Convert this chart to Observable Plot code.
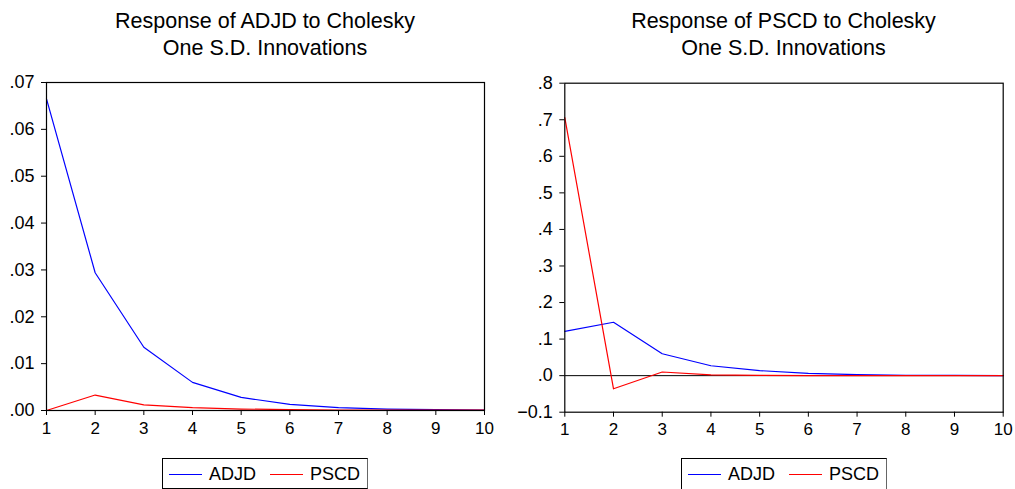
<!DOCTYPE html>
<html>
<head>
<meta charset="utf-8">
<script src="https://cdn.jsdelivr.net/npm/d3@7"></script>
<script src="https://cdn.jsdelivr.net/npm/@observablehq/plot@0.6"></script>
<style>
  html, body { margin: 0; padding: 0; background: #fff; }
  #root { position: relative; width: 1015px; height: 489px; overflow: hidden; font-family: "Liberation Sans", Arial, sans-serif; color: #000; }
  .panel { position: absolute; top: 0; }
  .title { position: absolute; text-align: center; font-size: 21.5px; line-height: 27px; white-space: nowrap; }
  .legend { position: absolute; border: 1px solid #000; border-right-color: #666; background: #fff; box-sizing: border-box; font-size: 18px; }
  .item { position: absolute; top: 5px; height: 20px; display: flex; align-items: center; }
  .swatch { display: inline-block; width: 33px; height: 0; border-top: 1.4px solid; margin-right: 7px; }
</style>
</head>
<body>
<div id="root"></div>
<script>
// ---- data ----
const periods = [1, 2, 3, 4, 5, 6, 7, 8, 9, 10];
const seriesNames = ["ADJD", "PSCD"];
const seriesColors = ["#0000ff", "#ff0000"];

// Response of ADJD
const adjdToADJD = [0.0665, 0.0294, 0.0135, 0.0060, 0.0028, 0.0013, 0.0006, 0.0003, 0.0002, 0.0001];
const adjdToPSCD = [0.0000, 0.0033, 0.0012, 0.0006, 0.0003, 0.0002, 0.0001, 0.0001, 0.0001, 0.0001];

// Response of PSCD
const pscdToADJD = [0.121, 0.146, 0.060, 0.027, 0.0137, 0.006, 0.003, 0.001, 0.0005, 0.0002];
const pscdToPSCD = [0.706, -0.036, 0.010, 0.002, 0.0005, 0.0002, 0.0001, 0.0, 0.0, 0.0];

const leftTicks = [0, 0.01, 0.02, 0.03, 0.04, 0.05, 0.06, 0.07];
const rightTicks = [-0.1, 0, 0.1, 0.2, 0.3, 0.4, 0.5, 0.6, 0.7, 0.8];

const titles = [
  ["Response of ADJD to Cholesky", "One S.D. Innovations"],
  ["Response of PSCD to Cholesky", "One S.D. Innovations"]
];

// ---- helpers ----
function rows(a, b) {
  const out = [];
  periods.forEach((p, i) => {
    out.push({period: p, value: a[i], series: seriesNames[0]});
  });
  periods.forEach((p, i) => {
    out.push({period: p, value: b[i], series: seriesNames[1]});
  });
  return out;
}
const fmt = (digits) => (d) => {
  const s = d3.format("." + digits + "f")(d);
  return s.replace(/^(-?)0\./, "$1.");
};

function makePanel(cfg) {
  const data = rows(cfg.a, cfg.b);
  const marks = [];
  if (cfg.zeroRule) marks.push(Plot.ruleY([0], {stroke: "#000", strokeWidth: 1}));
  marks.push(
    Plot.line(data, {x: "period", y: "value", stroke: "series", strokeWidth: 1.2, z: "series"}),
    Plot.frame({stroke: "#000", strokeWidth: 1.2}),
    Plot.axisY({ticks: cfg.ticks, tickFormat: fmt(cfg.digits), tickSize: 5, tickPadding: 7, fontSize: 18, label: null}),
    Plot.axisX({ticks: periods, tickFormat: d3.format("d"), tickSize: 5, tickPadding: 6, fontSize: 17, label: null})
  );
  return Plot.plot({
    width: cfg.width,
    height: 440,
    marginLeft: cfg.ml,
    marginRight: cfg.mr,
    marginTop: cfg.mt,
    marginBottom: cfg.mb,
    x: {domain: [1, 10], label: null},
    y: {domain: cfg.domain, label: null},
    color: {domain: seriesNames, range: seriesColors},
    style: {fontFamily: "'Liberation Sans', Arial, sans-serif", fontSize: "17px", color: "#000", background: "transparent", overflow: "visible"},
    marks
  });
}

const root = document.getElementById("root");

const panels = [
  {left: 0, width: 505, ml: 46, mr: 21, mt: 82, mb: 30, a: adjdToADJD, b: adjdToPSCD, domain: [0, 0.07], ticks: leftTicks, digits: 2, zeroRule: false, titleCenter: 265, legendLeft: 162, legendWidth: 206, legendH: 31},
  {left: 505, width: 510, ml: 59.3, mr: 12.3, mt: 82.7, mb: 28.3, a: pscdToADJD, b: pscdToPSCD, domain: [-0.1, 0.8], ticks: rightTicks, digits: 1, zeroRule: true, titleCenter: 783.5, legendLeft: 681, legendWidth: 206, legendH: 40}
];

panels.forEach((cfg, i) => {
  const wrap = document.createElement("div");
  wrap.className = "panel";
  wrap.style.left = cfg.left + "px";
  wrap.appendChild(makePanel(cfg));
  root.appendChild(wrap);

  const t = document.createElement("div");
  t.className = "title";
  t.style.left = (cfg.titleCenter - 250) + "px";
  t.style.width = "500px";
  t.style.top = "8px";
  t.innerHTML = titles[i].map(s => `<div>${s}</div>`).join("");
  root.appendChild(t);

  const lg = document.createElement("div");
  lg.className = "legend";
  lg.style.left = cfg.legendLeft + "px";
  lg.style.top = "458px";
  lg.style.width = cfg.legendWidth + "px";
  lg.style.height = cfg.legendH + "px";
  const offsets = [6, 107];
  seriesNames.forEach((name, k) => {
    const it = document.createElement("div");
    it.className = "item";
    it.style.left = offsets[k] + "px";
    const sw = document.createElement("span");
    sw.className = "swatch";
    sw.style.borderTopColor = seriesColors[k];
    it.appendChild(sw);
    const tx = document.createElement("span");
    tx.textContent = name;
    it.appendChild(tx);
    lg.appendChild(it);
  });
  root.appendChild(lg);
});
</script>
</body>
</html>
